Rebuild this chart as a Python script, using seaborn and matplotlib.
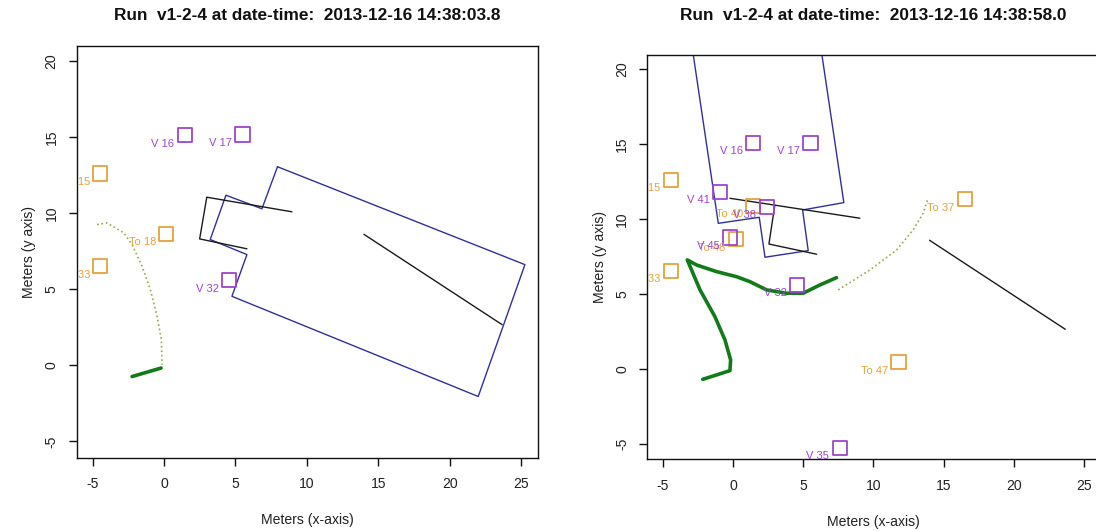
import matplotlib
matplotlib.use("Agg")
import matplotlib.pyplot as plt
import seaborn as sns
import pandas as pd

# ---- panel titles -------------------------------------------------------
title_left = "Run  v1-2-4 at date-time:  2013-12-16 14:38:03.8"
title_right = "Run  v1-2-4 at date-time:  2013-12-16 14:38:58.0"

# ---- tick values --------------------------------------------------------
x_ticks = [-5, 0, 5, 10, 15, 20, 25]
y_ticks = [-5, 0, 5, 10, 15, 20]

# ---- labelled objects (squares) -----------------------------------------
left_labels = ["V 16", "V 17", "To 15", "To 18", "To 33", "V 32"]
left_x = [1.45, 5.50, -4.45, 0.17, -4.45, 4.57]
left_y = [15.10, 15.15, 12.60, 8.63, 6.50, 5.59]

right_labels = ["V 16", "V 17", "To 15", "To 33", "V 41", "To 40", "V 38",
                "V 45", "To 48", "V 32", "To 37", "To 47", "V 35"]
right_x = [1.43, 5.52, -4.45, -4.45, -0.94, 1.43, 2.39,
           -0.23, 0.20, 4.57, 16.53, 11.79, 7.60]
right_y = [15.10, 15.10, 12.62, 6.57, 11.84, 10.90, 10.84,
           8.79, 8.67, 5.62, 11.33, 0.47, -5.25]

# ---- building outline (blue) -------------------------------------------
blue_left_x = [7.95, 25.27, 22.00, 4.76, 5.81, 3.24, 4.34, 6.86, 7.95]
blue_left_y = [13.04, 6.61, -2.05, 4.53, 7.27, 8.26, 11.17, 10.28, 13.04]
blue_right_x = [-3.96, -1.06, 1.86, 2.27, 5.35, 4.95, 7.89, 4.99, -3.96]
blue_right_y = [28.00, 9.73, 10.13, 7.47, 7.91, 10.62, 11.11, 29.38, 28.00]

# ---- walls (black) -----------------------------------------------------
wall_left_x = [8.96, 3.00, 2.50, 5.81]
wall_left_y = [10.08, 11.04, 8.30, 7.65]
wall_right_long_x = [-0.23, 9.03]
wall_right_long_y = [11.40, 10.07]
wall_right_hook_x = [2.97, 2.55, 5.95]
wall_right_hook_y = [10.95, 8.35, 7.67]
diag_x = [14.00, 23.67]
diag_y = [8.60, 2.67]

# ---- travelled path (thick) and planned path (dotted) ------------------
path_left_x = [-2.23, -0.20]
path_left_y = [-0.74, -0.18]
plan_left_x = [-4.68, -3.98, -2.82, -2.23, -1.53, -0.95, -0.48, -0.18, -0.13]
plan_left_y = [9.24, 9.35, 8.70, 7.93, 6.50, 4.97, 3.21, 1.68, 0.03]

path_right_x = [-2.17, -0.23, -0.18, -0.58, -1.30, -2.36, -3.27, -2.60,
                -1.18, 0.25, 1.20, 2.39, 3.81, 4.99, 6.18, 7.37]
path_right_y = [-0.67, -0.09, 0.62, 1.95, 3.51, 5.29, 7.29, 6.95,
                6.51, 6.17, 5.84, 5.29, 5.07, 5.07, 5.62, 6.11]
plan_right_x = [7.49, 9.74, 11.65, 12.83, 13.54, 13.90]
plan_right_y = [5.29, 6.62, 7.95, 9.29, 10.40, 11.40]

# ---- styling ------------------------------------------------------------
C_V = "#9b45c9"
C_TO = "#e3a33b"
C_BLUE = "#30309a"
C_WALL = "#1a1a1a"
C_PATH = "#137a1a"
C_PLAN = "#94aa4e"
TXT = "#222222"

sns.set_theme(style="white")
plt.rcParams["font.family"] = ["Liberation Sans", "DejaVu Sans"]

fig = plt.figure(figsize=(10.96, 5.31), dpi=100)
W, H = 1096.0, 531.0
ax_l = fig.add_axes([76.5 / W, 1 - 457.7 / H, 461 / W, (457.7 - 46) / H])
ax_r = fig.add_axes([647.3 / W, 1 - 459.3 / H, (1100 - 647.3) / W, (459.3 - 55) / H])


def line(ax, xs, ys, color, lw, ls="-"):
    df = pd.DataFrame({"x": xs, "y": ys})
    sns.lineplot(data=df, x="x", y="y", sort=False, estimator=None,
                 color=color, lw=lw, linestyle=ls, ax=ax)


def markers(ax, labels, xs, ys):
    df = pd.DataFrame({"label": labels, "x": xs, "y": ys})
    df["kind"] = df["label"].str.split().str[0]
    for kind, col in (("To", C_TO), ("V", C_V)):
        sub = df[df["kind"] == kind]
        sns.scatterplot(data=sub, x="x", y="y", marker="s", s=105,
                        facecolors="none", edgecolor=col, linewidth=1.3,
                        ax=ax, zorder=4)
        for _, r in sub.iterrows():
            ax.annotate(r["label"], (r["x"], r["y"]), xytext=(-7.5, -6),
                        textcoords="offset points", ha="right", va="center",
                        fontsize=8, color=col, clip_on=True, zorder=5)


def frame(ax, title_text, ylim):
    ax.set_xlim(-6.12, 26.15)
    ax.set_ylim(*ylim)
    ax.set_xticks(x_ticks)
    ax.set_yticks(y_ticks)
    ax.set_xticklabels([str(v) for v in x_ticks])
    ax.set_yticklabels([str(v) for v in y_ticks], rotation=90, va="center")
    ax.tick_params(axis="both", direction="out", length=6, width=1,
                   colors="#111111", labelcolor=TXT, labelsize=10.1,
                   bottom=True, left=True)
    ax.tick_params(axis="x", pad=8)
    ax.tick_params(axis="y", pad=7)
    for sp in ax.spines.values():
        sp.set_visible(True)
        sp.set_color("#111111")
        sp.set_linewidth(1.0)
    ax.set_xlabel("Meters (x-axis)", fontsize=10.1, color=TXT, labelpad=16)
    ax.set_ylabel("Meters (y axis)", fontsize=10.1, color=TXT, labelpad=6)
    ax.set_facecolor("white")
    bb = ax.get_position()
    fig.text((bb.x0 + bb.x1) / 2, 1 - 16 / H, title_text, ha="center",
             va="center", fontsize=12.4, fontweight="bold", color="#111111")


# left panel
line(ax_l, blue_left_x, blue_left_y, C_BLUE, 1.0)
line(ax_l, wall_left_x, wall_left_y, C_WALL, 1.0)
line(ax_l, diag_x, diag_y, C_WALL, 1.0)
line(ax_l, plan_left_x, plan_left_y, C_PLAN, 1.2, ":")
line(ax_l, path_left_x, path_left_y, C_PATH, 2.6)
markers(ax_l, left_labels, left_x, left_y)
frame(ax_l, title_left, (-6.07, 20.97))

# right panel
line(ax_r, blue_right_x, blue_right_y, C_BLUE, 1.0)
line(ax_r, wall_right_long_x, wall_right_long_y, C_WALL, 1.0)
line(ax_r, wall_right_hook_x, wall_right_hook_y, C_WALL, 1.0)
line(ax_r, diag_x, diag_y, C_WALL, 1.0)
line(ax_r, plan_right_x, plan_right_y, C_PLAN, 1.2, ":")
line(ax_r, path_right_x, path_right_y, C_PATH, 2.6)
markers(ax_r, right_labels, right_x, right_y)
frame(ax_r, title_right, (-6.0, 20.95))

fig.savefig("out.png", dpi=100, facecolor="white")
